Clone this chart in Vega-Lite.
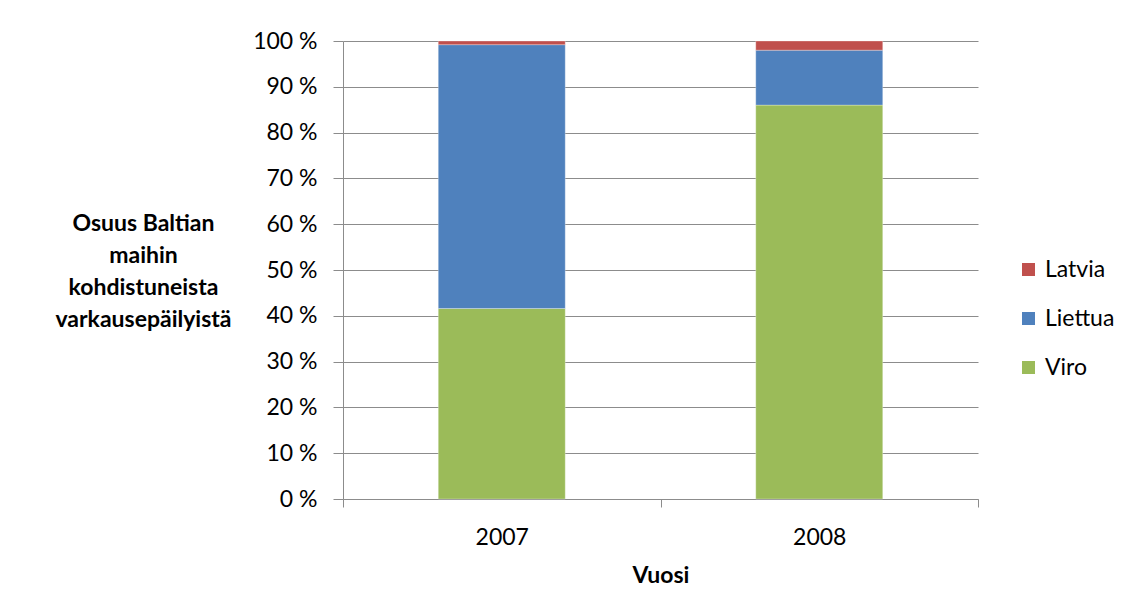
{
  "$schema": "https://vega.github.io/schema/vega-lite/v6.json",
  "autosize": {"type": "none"},
  "width": 635,
  "height": 458,
  "padding": {"left": 343, "top": 41, "right": 153, "bottom": 114},
  "background": "white",
  "data": {
    "values": [
      {"Vuosi": "2007", "Maa": "Viro", "Osuus": 0.416, "Jarjestys": 1},
      {"Vuosi": "2007", "Maa": "Liettua", "Osuus": 0.576, "Jarjestys": 2},
      {"Vuosi": "2007", "Maa": "Latvia", "Osuus": 0.008, "Jarjestys": 3},
      {"Vuosi": "2008", "Maa": "Viro", "Osuus": 0.86, "Jarjestys": 1},
      {"Vuosi": "2008", "Maa": "Liettua", "Osuus": 0.12, "Jarjestys": 2},
      {"Vuosi": "2008", "Maa": "Latvia", "Osuus": 0.02, "Jarjestys": 3}
    ]
  },
  "mark": {"type": "bar", "width": {"band": 0.4}, "stroke": "white", "strokeWidth": 0.5, "strokeOpacity": 0.6},
  "encoding": {
    "x": {
      "field": "Vuosi",
      "type": "nominal",
      "scale": {"paddingInner": 0, "paddingOuter": 0},
      "axis": {
        "title": "Vuosi",
        "labelAngle": 0,
        "tickBand": "extent",
        "tickSize": 8,
        "tickColor": "#8c8c8c",
        "domainColor": "#8c8c8c",
        "labelPadding": 19,
        "labelFontSize": 23,
        "labelFont": "Lato",
        "labelColor": "#000000",
        "titleFont": "Lato",
        "titleFontSize": 23,
        "titleFontWeight": "bold",
        "titleColor": "#000000",
        "titlePadding": 15
      }
    },
    "y": {
      "field": "Osuus",
      "type": "quantitative",
      "stack": "zero",
      "scale": {"domain": [0, 1], "nice": false},
      "axis": {
        "title": ["Osuus Baltian", "maihin", "kohdistuneista", "varkausepäilyistä"],
        "titleAngle": 0,
        "titleAlign": "center",
        "titleBaseline": "middle",
        "titleX": -200,
        "titleY": 182,
        "titleLineHeight": 32,
        "titleFont": "Lato",
        "titleFontSize": 23,
        "titleFontWeight": "bold",
        "titleColor": "#000000",
        "values": [0, 0.1, 0.2, 0.3, 0.4, 0.5, 0.6, 0.7, 0.8, 0.9, 1],
        "labelExpr": "round(datum.value * 100) + ' %'",
        "labelFont": "Lato",
        "labelFontSize": 23,
        "labelColor": "#000000",
        "labelPadding": 16,
        "tickSize": 10,
        "tickColor": "#8c8c8c",
        "domainColor": "#8c8c8c",
        "grid": true,
        "gridColor": "#8c8c8c"
      }
    },
    "color": {
      "field": "Maa",
      "type": "nominal",
      "scale": {
        "domain": ["Latvia", "Liettua", "Viro"],
        "range": ["#C0504D", "#4F81BD", "#9BBB59"]
      },
      "legend": {
        "title": null,
        "orient": "none",
        "legendX": 674,
        "legendY": 217,
        "symbolType": "square",
        "symbolSize": 169,
        "symbolStrokeWidth": 0,
        "labelFont": "Lato",
        "labelFontSize": 23,
        "labelColor": "#000000",
        "labelOffset": 5,
        "rowPadding": 25
      }
    },
    "order": {"field": "Jarjestys", "type": "quantitative", "sort": "ascending"}
  },
  "config": {
    "view": {"stroke": null},
    "axis": {"domainWidth": 1, "tickWidth": 1, "gridWidth": 1}
  }
}
